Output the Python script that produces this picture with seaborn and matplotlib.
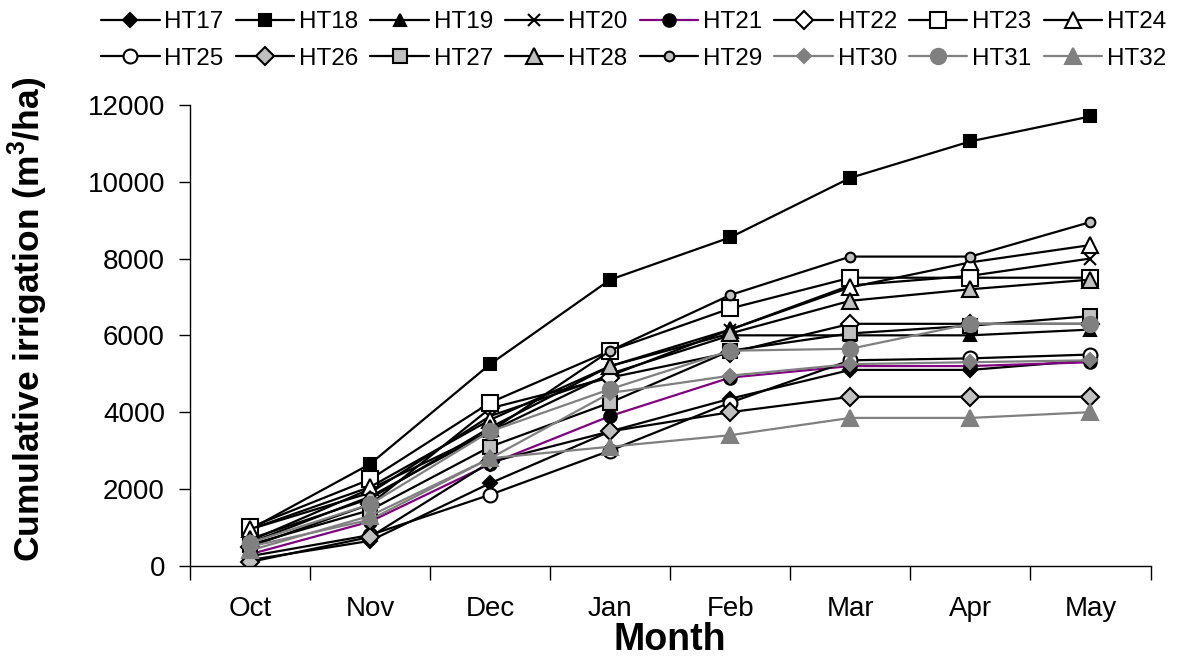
import numpy as np
import pandas as pd
import matplotlib
matplotlib.use("Agg")
import matplotlib.pyplot as plt
import seaborn as sns

months = ["Oct", "Nov", "Dec", "Jan", "Feb", "Mar", "Apr", "May"]

HT17 = [150, 650, 2150, 3500, 4350, 5100, 5100, 5350]
HT18 = [950, 2650, 5250, 7450, 8550, 10100, 11050, 11700]
HT19 = [650, 2000, 3500, 5000, 6000, 6000, 6000, 6150]
HT20 = [950, 1900, 3900, 4950, 6150, 7300, 7550, 8000]
HT21 = [300, 1150, 2650, 3900, 4900, 5200, 5200, 5300]
HT22 = [500, 1600, 4100, 4900, 5550, 6300, 6300, 6300]
HT23 = [1000, 2250, 4250, 5600, 6700, 7500, 7500, 7500]
HT24 = [950, 2050, 3800, 5200, 6150, 7250, 7900, 8350]
HT25 = [250, 800, 1850, 3000, 4250, 5350, 5400, 5500]
HT26 = [100, 750, 2700, 3500, 4000, 4400, 4400, 4400]
HT27 = [550, 1450, 3100, 4250, 5600, 6050, 6250, 6500]
HT28 = [700, 1750, 3600, 5200, 6050, 6900, 7200, 7450]
HT29 = [600, 1800, 3500, 5600, 7050, 8050, 8050, 8950]
HT30 = [500, 1200, 2800, 4500, 4950, 5250, 5300, 5350]
HT31 = [600, 1600, 3500, 4600, 5600, 5650, 6300, 6300]
HT32 = [400, 1300, 2800, 3100, 3400, 3850, 3850, 4000]

series_names = ["HT17", "HT18", "HT19", "HT20", "HT21", "HT22", "HT23", "HT24",
                "HT25", "HT26", "HT27", "HT28", "HT29", "HT30", "HT31", "HT32"]
series_values = [HT17, HT18, HT19, HT20, HT21, HT22, HT23, HT24,
                 HT25, HT26, HT27, HT28, HT29, HT30, HT31, HT32]

rows = []
for name, vals in zip(series_names, series_values):
    for i, (m, v) in enumerate(zip(months, vals)):
        rows.append({"series": name, "pos": i, "month": m, "value": v})
df = pd.DataFrame(rows)

K = "black"
G = "#808080"
LG = "#C0C0C0"
P = "#800080"
# name: (marker, line color, face, edge, size)
styles = {
    "HT17": ("D", K, K, K, 7),
    "HT18": ("s", K, K, K, 8),
    "HT19": ("^", K, K, K, 9),
    "HT20": ("x", K, K, K, 9),
    "HT21": ("o", P, K, K, 9),
    "HT22": ("D", K, "white", K, 9),
    "HT23": ("s", K, "white", K, 11),
    "HT24": ("^", K, "white", K, 11),
    "HT25": ("o", K, "white", K, 10),
    "HT26": ("D", K, LG, K, 9),
    "HT27": ("s", K, LG, K, 10),
    "HT28": ("^", K, LG, K, 11),
    "HT29": ("o", K, LG, K, 7),
    "HT30": ("D", G, G, G, 7),
    "HT31": ("o", G, G, G, 11),
    "HT32": ("^", G, G, G, 12),
}

sns.set_theme(style="white")
plt.rcParams["font.family"] = ["Liberation Sans", "DejaVu Sans"]
plt.rcParams["mathtext.fontset"] = "custom"
plt.rcParams["mathtext.bf"] = "Liberation Sans:bold"
plt.rcParams["mathtext.rm"] = "Liberation Sans"
plt.rcParams["text.color"] = "black"
plt.rcParams["axes.labelcolor"] = "black"
plt.rcParams["xtick.color"] = "black"
plt.rcParams["ytick.color"] = "black"

fig = plt.figure(figsize=(11.8, 6.68), dpi=100)
ax = fig.add_axes([0.161, 0.153, 0.814, 0.69])

handles = []
for name in series_names:
    mk, lc, fc, ec, ms = styles[name]
    sub = df[df["series"] == name]
    sns.lineplot(data=sub, x="pos", y="value", ax=ax, color=lc, marker=mk,
                 markersize=ms, markerfacecolor=fc, markeredgecolor=ec,
                 markeredgewidth=1.5, linewidth=1.6, label=name, legend=False)
    handles.append(ax.lines[-1])

ax.set_xlim(-0.5, 7.5)
ax.set_ylim(0, 12000)
ax.set_yticks(np.arange(0, 12001, 2000))
ax.set_xticks(np.arange(-0.5, 7.6, 1))
ax.set_xticklabels([])
ax.set_xticks(np.arange(len(months)), minor=True)
ax.set_xticklabels(months, minor=True)
ax.tick_params(axis="x", which="major", direction="out", length=10, width=1, color="black", bottom=True)
ax.tick_params(axis="x", which="minor", length=0, labelsize=20, pad=22, labelcolor="black")
ax.tick_params(axis="y", direction="out", length=8, width=1, labelsize=20, labelcolor="black",
               color="black", left=True, pad=10)
for s in ["top", "right"]:
    ax.spines[s].set_visible(False)
for s in ["left", "bottom"]:
    ax.spines[s].set_color("black")
    ax.spines[s].set_linewidth(1)

ax.set_xlabel("Month", fontsize=27, fontweight="bold", labelpad=0, color="black")
ax.set_ylabel(r"Cumulative irrigation (m$^\mathbf{3}$/ha)", fontsize=25.5, fontweight="bold",
              color="black")
ax.yaxis.set_label_coords(-0.146, 0.535)
ax.grid(False)

# legend filled row by row (matplotlib fills columns first)
ncol = 8
order = []
for c in range(ncol):
    order += [c, c + ncol]
leg = fig.legend(handles=[handles[i] for i in order], labels=[series_names[i] for i in order],
                 ncol=ncol, loc="upper center", bbox_to_anchor=(0.537, 1.005), frameon=False,
                 fontsize=17.5, handlelength=2.4, handletextpad=0.2, columnspacing=0.5,
                 labelspacing=0.6, borderaxespad=0.2)
for t in leg.get_texts():
    t.set_color("black")

fig.savefig("out.png", dpi=100)
